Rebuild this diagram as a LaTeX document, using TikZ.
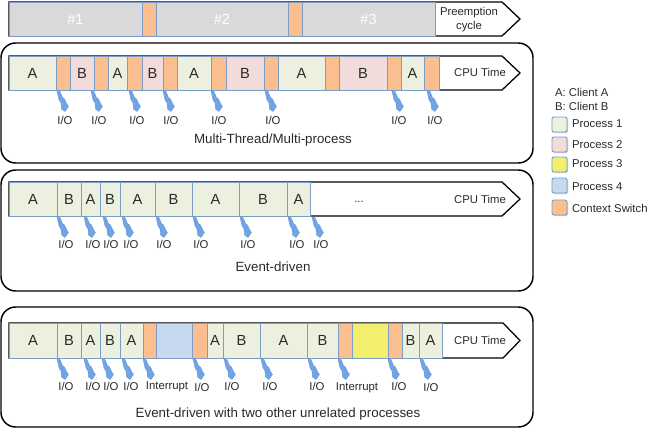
\documentclass[tikz,border=0pt]{standalone}
\usepackage{fontspec}
\setmainfont{Liberation Sans}
\usetikzlibrary{shapes.geometric}
\definecolor{txt}{HTML}{2A2A2A}
\definecolor{edge}{HTML}{7C9EC6}
\definecolor{gr}{HTML}{D9D9D9}
\definecolor{pone}{HTML}{EBF1DE}
\definecolor{ptwo}{HTML}{F2DCDB}
\definecolor{pthree}{HTML}{F2EF6E}
\definecolor{pfour}{HTML}{C6D9F1}
\definecolor{sw}{HTML}{FBBF8F}
\definecolor{boltc}{HTML}{6FA5E6}
\tikzset{
  x=0.75pt,y=-0.75pt,
  every node/.style={inner sep=0pt,outer sep=0pt,text=txt,font=\fontsize{8.5pt}{10pt}\selectfont},
  panel/.style={draw=black,line width=1.1pt,rounded corners=11pt,fill=white},
  timearrow/.style={draw=black,line width=0.95pt,fill=white,line join=miter},
  segbox/.style={draw=edge,line width=0.7pt,font=\fontsize{11pt}{13pt}\selectfont},
  A/.style={segbox,fill=pone},
  B/.style={segbox,fill=ptwo},
  Y/.style={segbox,fill=pthree},
  L/.style={segbox,fill=pfour},
  C/.style={segbox,fill=sw},
  G/.style={segbox,fill=gr,text=white},
  swatch/.style={draw=edge,line width=0.7pt,rounded corners=1.5pt,minimum width=11.25pt,minimum height=11.25pt},
  caption/.style={font=\fontsize{10pt}{12pt}\selectfont},
  legend/.style={anchor=west,font=\fontsize{8.5pt}{10pt}\selectfont},
  bolt/.pic={\fill[boltc,draw=boltc!85!black,line width=0.2pt]
     (0,0)--(3,0.5)--(5.5,6.5)--(7.5,8)--(9.5,12.5)--(11.5,15.5)--(8,20.5)--(4.5,18)--(4,12)--(2,9)--cycle;}
}
% \rowbar{prefix}{top}{bottom}{list of left/right/style/text}
\newcommand{\rowbar}[4]{%
  \foreach \xa/\xb/\stl/\lbl in {#4}{%
    \pgfmathsetmacro{\segw}{(\xb-\xa)*0.75}%
    \pgfmathsetmacro{\segh}{(#3-#2)*0.75}%
    \node[\stl,minimum width=\segw pt,minimum height=\segh pt] (#1-\xa) at ({(\xa+\xb)/2},{(#2+#3)/2}) {\lbl};%
  }}
% \iomarks{prefix}{bolt y}{list of bolt x / label x / label y / text}
\newcommand{\iomarks}[3]{%
  \foreach \bx/\lx/\ly/\lbl in {#3}{%
    \pic at (\bx,#2) {bolt};%
    \node (#1-\bx) at (\lx,\ly) {\lbl};%
  }}
\begin{document}
\begin{tikzpicture}
\useasboundingbox (0,0) rectangle (650,428);
\fill[white] (0,0) rectangle (650,428);

% top bar
\draw[timearrow] (9,2)--(502,2)--(520,19)--(502,36)--(9,36)--cycle;
\rowbar{t}{2}{36}{9/142/G/\#1,142/156/C/,156/288/G/\#2,288/302/C/,302/435/G/\#3}
\node[align=center,font=\fontsize{8.5pt}{10.4pt}\selectfont] (pc) at (469,20) {Preemption\\cycle};

% panel 1
\draw[panel] (1,43) rectangle (533,163);
\draw[timearrow] (9,56)--(502,56)--(520,73)--(502,90)--(9,90)--cycle;
\rowbar{a}{56}{90}{9/56/A/A,56/70/C/,70/94/B/B,94/108/C/,108/127/A/A,127/142/C/,142/163/B/B,163/177/C/,177/211/A/A,211/226/C/,226/264/B/B,264/278/C/,278/325/A/A,325/339/C/,339/387/B/B,387/401/C/,401/424/A/A,424/439/C/}
\node (cpua) at (480,72.5) {CPU Time};
\iomarks{ai}{91}{57/65/120/I\slash O,91/99/120/I\slash O,129/137/120/I\slash O,163/171/120/I\slash O,211/219/120/I\slash O,265/273/120/I\slash O,392/399/120/I\slash O,427/435/120/I\slash O}
\node[caption] (capa) at (273,140) {Multi-Thread/Multi-process};

% panel 2
\draw[panel] (1,170) rectangle (533,291);
\draw[timearrow] (9,182)--(502,182)--(520,199)--(502,216)--(9,216)--cycle;
\rowbar{b}{182}{216}{9/57/A/A,57/81/A/B,81/100/A/A,100/120/A/B,120/155/A/A,155/192/A/B,192/239/A/A,239/287/A/B,287/310/A/A}
\node (dots) at (359,202) {...};
\node (cpub) at (480,199) {CPU Time};
\iomarks{bi}{217}{57/66/244/I\slash O,84/93/244/I\slash O,103/111/244/I\slash O,122/131/244/I\slash O,156/164/244/I\slash O,193/201/244/I\slash O,240/248/244/I\slash O,288/297/244/I\slash O,312/321/244/I\slash O}
\node[caption] (capb) at (273,267) {Event-driven};

% panel 3
\draw[panel] (1,307) rectangle (533,427);
\draw[timearrow] (9,323)--(503,323)--(520,340.5)--(503,358)--(9,358)--cycle;
\rowbar{c}{323}{358}{9/57/A/A,57/81/A/B,81/100/A/A,100/120/A/B,120/143/A/A,143/156/C/,156/192/L/,192/207/C/,207/223/A/A,223/260/A/B,260/307/A/A,307/338/A/B,338/352/C/,352/388/Y/,388/402/C/,402/419/A/B,419/442/A/A}
\node (cpuc) at (480,340.5) {CPU Time};
\iomarks{ci}{359}{57/66/386/I\slash O,84/93/386/I\slash O,102/111/386/I\slash O,122/131/386/I\slash O,143/167/387/Interrupt,193/202/387/I\slash O,224/232/386/I\slash O,261/270/386/I\slash O,308/317/386/I\slash O,338/357/388/Interrupt,388/399/386/I\slash O,420/431/387/I\slash O}
\node[caption] (capc) at (278,414) {Event-driven with two other unrelated processes};

% legend
\node[legend] (la) at (555,92) {A: Client A};
\node[legend] (lb) at (555,106) {B: Client B};
\foreach \n/\c/\y/\ty/\lbl in {1/pone/124.5/124/Process 1,2/ptwo/144.5/145/Process 2,3/pthree/164.5/164/Process 3,4/pfour/185.5/187/Process 4,5/sw/207.5/208/Context Switch}{
  \fill[black!20,rounded corners=1.5pt] (553,{\y-6.5}) rectangle (568,{\y+8.5});
  \node[swatch,fill=\c] (s\n) at (559.5,\y) {};
  \node[legend] (t\n) at (572,\ty) {\lbl};
}
\end{tikzpicture}
\end{document}
